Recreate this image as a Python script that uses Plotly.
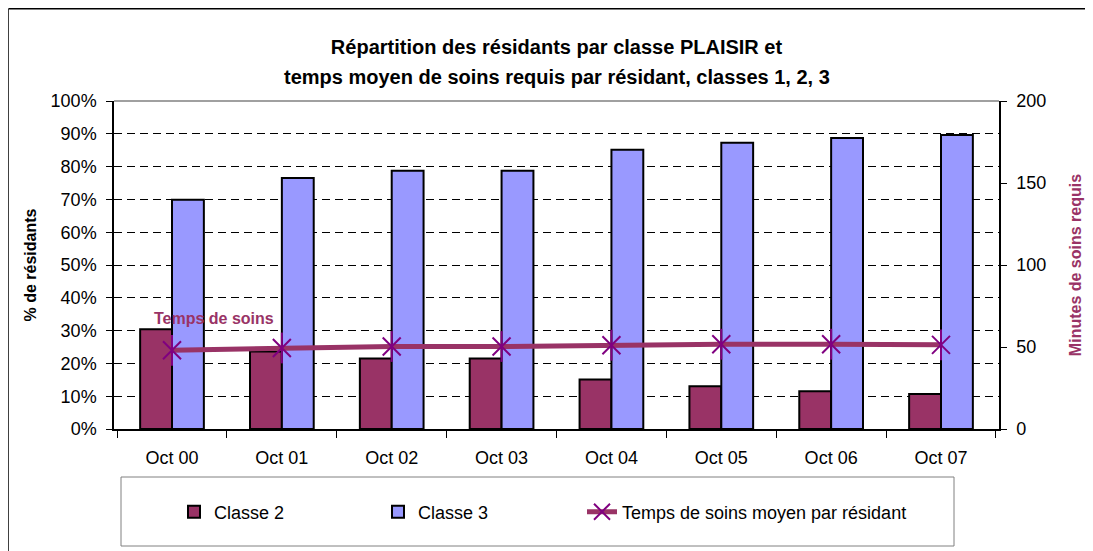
import plotly.graph_objects as go

categories = ["Oct 00", "Oct 01", "Oct 02", "Oct 03", "Oct 04", "Oct 05", "Oct 06", "Oct 07"]
classe2 = [30.4, 23.6, 21.5, 21.5, 15.1, 13.0, 11.5, 10.7]
classe3 = [69.9, 76.5, 78.7, 78.7, 85.1, 87.3, 88.7, 89.6]
temps = [48.0, 49.4, 50.3, 50.3, 51.1, 51.7, 51.7, 51.3]
y_ticks = [0, 10, 20, 30, 40, 50, 60, 70, 80, 90, 100]
y_ticktext = [f"{v}%" for v in y_ticks]
y2_ticks = [0, 50, 100, 150, 200]
title_lines = ["Répartition des résidants par classe PLAISIR et",
               "temps moyen de soins requis par résidant, classes 1, 2, 3"]

W, H = 1093, 551
L, R, T, B = 106, 991, 93, 421   # plot area in figure pixels
FONT = "Liberation Sans, Arial, sans-serif"

def px(x):
    return (x - L) / (R - L)

def py(y):
    return (B - y) / (B - T)

fig = go.Figure()
fig.add_trace(go.Bar(x=categories, y=classe2, name="Classe 2", legend="legend",
                     marker=dict(color="#993366", line=dict(color="black", width=2))))
fig.add_trace(go.Bar(x=categories, y=classe3, name="Classe 3", legend="legend2",
                     marker=dict(color="#9999FF", line=dict(color="black", width=2))))
fig.add_trace(go.Scatter(x=categories, y=temps, yaxis="y2", mode="lines+markers",
                         name="Temps de soins moyen par résidant", legend="legend3",
                         line=dict(color="#993366", width=5),
                         marker=dict(symbol="x-thin-open", size=18, color="#800080",
                                     line=dict(color="#800080", width=2))))
fig.add_trace(go.Scatter(x=categories, y=temps, yaxis="y2", mode="markers",
                         showlegend=False, hoverinfo="skip",
                         marker=dict(symbol="line-ns-open", size=22, color="#800080",
                                     line=dict(color="#800080", width=2))))

shapes = [
    # outer chart border (top and left edges; right/bottom fall outside the view)
    dict(type="line", xref="paper", yref="paper", x0=px(0.5), x1=px(W), y0=py(0.75), y1=py(0.75),
         line=dict(color="black", width=1.5)),
    dict(type="line", xref="paper", yref="paper", x0=px(0), x1=px(0), y0=py(0.75), y1=py(H),
         line=dict(color="black", width=1.5)),
    # plot area top border
    dict(type="line", xref="paper", yref="paper", x0=0, x1=1, y0=1, y1=1,
         line=dict(color="#808080", width=1.5)),
    # legend box
    dict(type="rect", xref="paper", yref="paper", x0=px(113), x1=px(946), y0=py(469), y1=py(538),
         line=dict(color="#808080", width=1), fillcolor="rgba(0,0,0,0)"),
]

annotations = [
    dict(x=categories[0], y=temps[0], xref="x", yref="y2", text="<b>Temps de soins</b>",
         showarrow=False, xshift=42, yshift=32,
         font=dict(family=FONT, size=16, color="#993366")),
    dict(x=0.5, y=py(69), xref="paper", yref="paper", xanchor="center", yanchor="middle",
         text=f"<b>{title_lines[1]}</b>", showarrow=False,
         font=dict(family=FONT, size=20, color="black")),
]

legend_common = dict(orientation="h", yanchor="middle", xanchor="left", y=py(504),
                     font=dict(family=FONT, size=18, color="black"),
                     bgcolor="rgba(0,0,0,0)", borderwidth=0)

fig.update_layout(
    width=W, height=H,
    margin=dict(l=L, r=W - R, t=T, b=H - B),
    paper_bgcolor="white", plot_bgcolor="white",
    font=dict(family=FONT, size=18, color="black"),
    title=dict(text=f"<b>{title_lines[0]}</b>",
               x=0.5, xref="paper", y=1 - 39 / H, yanchor="middle",
               font=dict(family=FONT, size=20, color="black")),
    barmode="group", bargap=0.42, bargroupgap=0,
    showlegend=True,
    legend=dict(x=px(166), **legend_common),
    legend2=dict(x=px(370), **legend_common),
    legend3=dict(x=px(574), **legend_common),
    xaxis=dict(type="category", showline=True, linecolor="black", linewidth=1.5,
               ticks="outside", tickson="boundaries", ticklen=7, tickcolor="black",
               showgrid=False, tickfont=dict(size=18), ticklabelstandoff=12),
    yaxis=dict(range=[0, 100], tickvals=y_ticks, ticktext=y_ticktext,
               showline=True, linecolor="black", linewidth=1.5,
               ticks="outside", ticklen=6, tickcolor="black",
               showgrid=True, gridcolor="black", gridwidth=1, griddash="8px,5px",
               zeroline=False, tickfont=dict(size=18), ticklabelstandoff=6,
               title=dict(text="<b>% de résidants</b>", font=dict(size=16), standoff=10)),
    yaxis2=dict(range=[0, 200], tickvals=y2_ticks, overlaying="y", side="right",
                showline=True, linecolor="black", linewidth=1.5,
                ticks="outside", ticklen=6, tickcolor="black",
                showgrid=False, zeroline=False, tickfont=dict(size=18), ticklabelstandoff=6,
                title=dict(text="<b>Minutes de soins requis</b>", font=dict(size=16, color="#993366"),
                           standoff=24)),
    shapes=shapes,
    annotations=annotations,
)

fig.write_html("out.html")
